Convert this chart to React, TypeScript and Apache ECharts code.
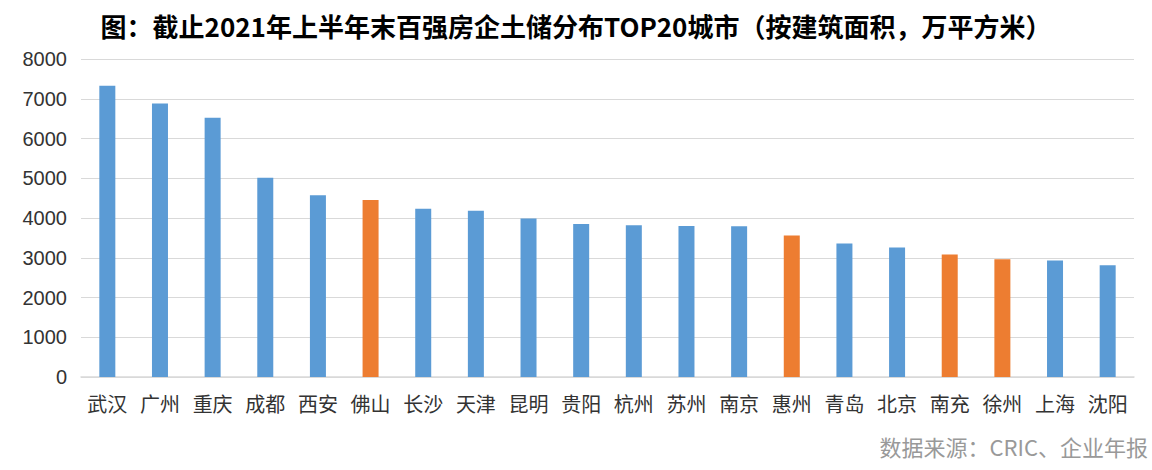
import React, { useEffect, useRef } from "react";
import * as echarts from "echarts";

const cities = ["武汉", "广州", "重庆", "成都", "西安", "佛山", "长沙", "天津", "昆明", "贵阳", "杭州", "苏州", "南京", "惠州", "青岛", "北京", "南充", "徐州", "上海", "沈阳"];
const values = [7330, 6880, 6520, 5010, 4570, 4450, 4230, 4180, 3990, 3850, 3820, 3800, 3790, 3560, 3360, 3260, 3080, 2960, 2930, 2810];
const highlighted = ["佛山", "惠州", "南充", "徐州"];
const titleText = "图：截止2021年上半年末百强房企土储分布TOP20城市（按建筑面积，万平方米）";
const sourceText = "数据来源：CRIC、企业年报";

export default function App() {
  const ref = useRef<HTMLDivElement>(null);
  useEffect(() => {
    if (!ref.current) return;
    const chart = echarts.init(ref.current, null, { renderer: "svg" });
    chart.setOption({
      animation: false,
      backgroundColor: "#ffffff",
      title: {
        text: titleText,
        left: "center",
        top: 7,
        textStyle: { fontSize: 26, fontWeight: "bold", color: "#000", fontFamily: "Noto Sans CJK SC" },
      },
      grid: { left: 81, right: 18, top: 59, bottom: 93 },
      xAxis: {
        type: "category",
        data: cities,
        axisLine: { lineStyle: { color: "#d9d9d9", width: 1.5 } },
        axisTick: { show: false },
        axisLabel: { fontSize: 20, color: "#333", margin: 16, fontFamily: "Noto Sans CJK SC", interval: 0 },
      },
      yAxis: {
        type: "value",
        min: 0,
        max: 8000,
        interval: 1000,
        axisLine: { show: false },
        axisTick: { show: false },
        splitLine: { lineStyle: { color: "#d9d9d9", width: 1 } },
        axisLabel: {
          fontSize: 20,
          color: "#333",
          margin: 14,
          fontFamily: "Liberation Sans",
          formatter: (v: number) => String(v),
        },
      },
      series: [
        {
          type: "bar",
          barWidth: 16,
          data: values.map((v, i) => ({
            value: v,
            itemStyle: { color: highlighted.includes(cities[i]) ? "#ed7d31" : "#5b9bd5" },
          })),
        },
      ],
      graphic: [
        {
          type: "text",
          right: 4,
          top: 435,
          style: { text: sourceText, fontSize: 22, fill: "#999", fontFamily: "Noto Sans CJK SC" },
        },
      ],
    });
    return () => chart.dispose();
  }, []);
  return <div ref={ref} style={{ position: "fixed", left: 0, top: 0, width: 1152, height: 470 }} />;
}
